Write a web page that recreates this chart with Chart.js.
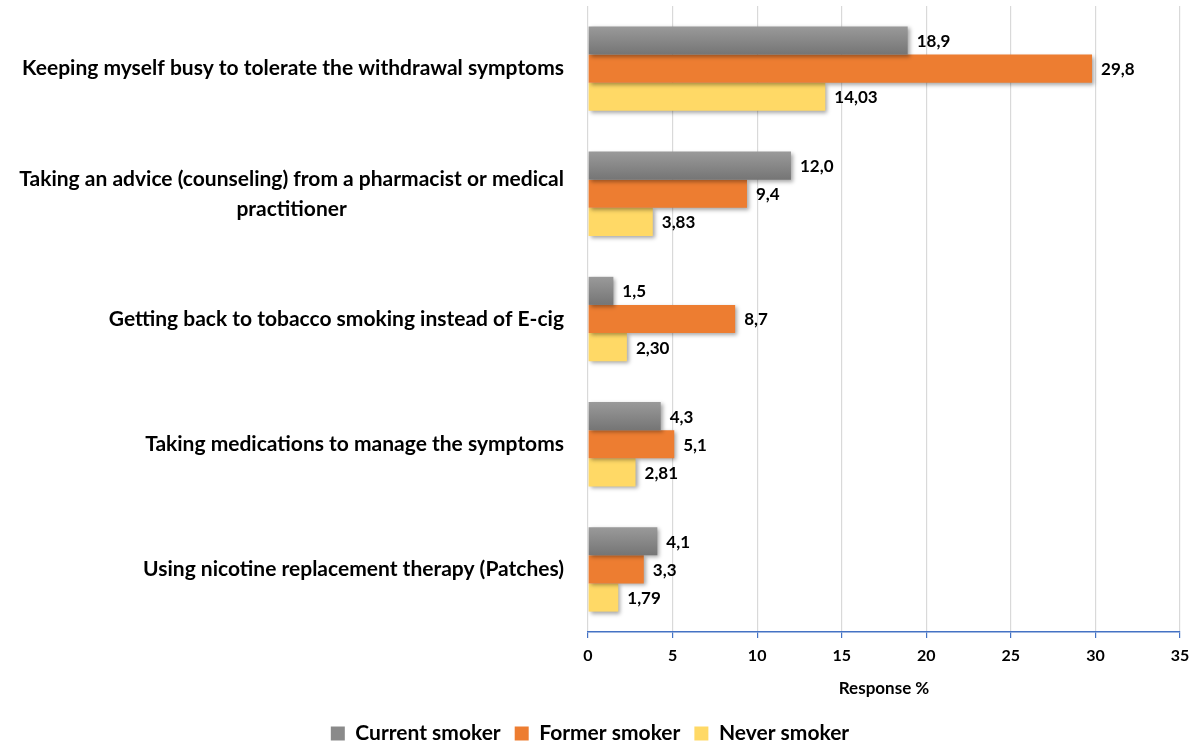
<!DOCTYPE html>
<html>
<head>
<meta charset="utf-8">
<script src="https://cdn.jsdelivr.net/npm/chart.js@4.4.1/dist/chart.umd.min.js"></script>
<style>
  html, body { margin: 0; padding: 0; background: #fff; }
  #wrap { width: 1200px; height: 748px; }
</style>
</head>
<body>
<div id="wrap"><canvas id="chart1"></canvas></div>
<script>
// categories (lignes multiples pour les libellés longs)
const categories = [
    ['Keeping myself busy to tolerate the withdrawal symptoms'],
    ['Taking an advice (counseling) from a pharmacist or medical', 'practitioner'],
    ['Getting back to tobacco smoking instead of E-cig'],
    ['Taking medications to manage the symptoms'],
    ['Using nicotine replacement therapy (Patches)']
]
// valeurs des séries
const currentSmoker = [18.9, 12.0, 1.5, 4.3, 4.1]
const formerSmoker  = [29.8, 9.4, 8.7, 5.1, 3.3]
const neverSmoker   = [14.03, 3.83, 2.30, 2.81, 1.79]
const seriesNames = ['Current smoker', 'Former smoker', 'Never smoker']
// nombre de décimales affichées par série
const decimals = [1, 1, 2]
// graduations de l'axe x
const xTicks = [0, 5, 10, 15, 20, 25, 30, 35]
const xTitle = 'Response %'

const FONT = 'Lato'
const catPct = 0.674

// dégradé gris pour la première série
function grayFill(c) {
    const chart = c.chart
    const y = chart.scales.y
    if (!y || c.dataIndex == null) return '#888888'
    const center = y.getPixelForValue(c.dataIndex)
    const h = (y.height / categories.length) * catPct / 3
    const top = center - 1.5 * h
    const g = chart.ctx.createLinearGradient(0, top, 0, top + h)
    g.addColorStop(0, '#9a9a9a')
    g.addColorStop(1, '#757575')
    return g
}

// ombre sous les barres
const shadowPlugin = {
    id: 'shadow',
    beforeDatasetsDraw(chart) {
        const ctx = chart.ctx
        ctx.save()
        ctx.shadowColor = 'rgba(0,0,0,0.35)'
        ctx.shadowBlur = 4
        ctx.shadowOffsetX = 2
        ctx.shadowOffsetY = 2
    },
    afterDatasetsDraw(chart) {
        chart.ctx.restore()
    }
}

// étiquettes de valeurs au bout des barres
const valueLabels = {
    id: 'valueLabels',
    afterDatasetsDraw(chart) {
        const ctx = chart.ctx
        ctx.save()
        ctx.font = 'bold 17px ' + FONT
        ctx.fillStyle = '#000'
        ctx.textAlign = 'left'
        ctx.textBaseline = 'middle'
        chart.data.datasets.forEach((ds, d) => {
            const meta = chart.getDatasetMeta(d)
            meta.data.forEach((bar, i) => {
                const txt = ds.data[i].toFixed(decimals[d]).replace('.', ',')
                ctx.fillText(txt, bar.x + 9, bar.y + 1)
            })
        })
        ctx.restore()
    }
}

// libellés des catégories, alignés à droite, lignes centrées entre elles
const catLabels = {
    id: 'catLabels',
    afterDraw(chart) {
        const ctx = chart.ctx
        const y = chart.scales.y
        const right = chart.chartArea.left - 24
        const lh = 30
        ctx.save()
        ctx.font = 'bold 21px ' + FONT
        ctx.fillStyle = '#000'
        ctx.textBaseline = 'middle'
        ctx.textAlign = 'center'
        categories.forEach((lines, i) => {
            const w = Math.max(...lines.map(l => ctx.measureText(l).width))
            const cx = right - w / 2
            const cy = y.getPixelForValue(i)
            const y0 = cy - (lines.length - 1) * lh / 2
            lines.forEach((l, k) => ctx.fillText(l, cx, y0 + k * lh))
        })
        ctx.restore()
    }
}

const config = {
    type: 'bar',
    data: {
        labels: categories,
        datasets: [
            { label: seriesNames[0], data: currentSmoker, backgroundColor: grayFill },
            { label: seriesNames[1], data: formerSmoker, backgroundColor: '#ED7D31' },
            { label: seriesNames[2], data: neverSmoker, backgroundColor: '#FFD966' }
        ]
    },
    options: {
        indexAxis: 'y',
        responsive: true,
        maintainAspectRatio: false,
        animation: false,
        layout: { padding: { left: 0, right: 20, top: 6, bottom: -6 } },
        datasets: { bar: { categoryPercentage: catPct, barPercentage: 1 } },
        scales: {
            x: {
                min: 0,
                max: 35,
                afterBuildTicks(s) { s.ticks = xTicks.map(v => ({ value: v })) },
                afterFit(s) { s.height = 77 },
                border: { display: true, color: '#4472C4', width: 1.5 },
                grid: { color: '#d9d9d9', lineWidth: 1.2, tickColor: '#4472C4', tickLength: 6, drawTicks: true },
                ticks: { font: { family: FONT, size: 16, weight: 'bold' }, color: '#000', padding: 8 },
                title: { display: true, text: xTitle, font: { family: FONT, size: 17, weight: 'bold' }, color: '#000', padding: { top: 6, bottom: 10 } }
            },
            y: {
                afterFit(s) { s.width = 588 },
                grid: { display: false },
                border: { display: false },
                ticks: { display: false }
            }
        },
        plugins: {
            tooltip: { enabled: false },
            legend: {
                position: 'bottom',
                labels: {
                    font: { family: FONT, size: 21, weight: 'bold' },
                    color: '#000',
                    boxWidth: 14,
                    boxHeight: 14,
                    padding: 14,
                    generateLabels(chart) {
                        const fills = ['#8a8a8a', '#ED7D31', '#FFD966']
                        return chart.data.datasets.map((ds, i) => ({
                            text: ds.label, fillStyle: fills[i], strokeStyle: fills[i], lineWidth: 0, datasetIndex: i
                        }))
                    }
                }
            }
        }
    },
    plugins: [shadowPlugin, valueLabels, catLabels]
}

const chartOne = new Chart(document.getElementById('chart1'), config)
</script>
</body>
</html>
